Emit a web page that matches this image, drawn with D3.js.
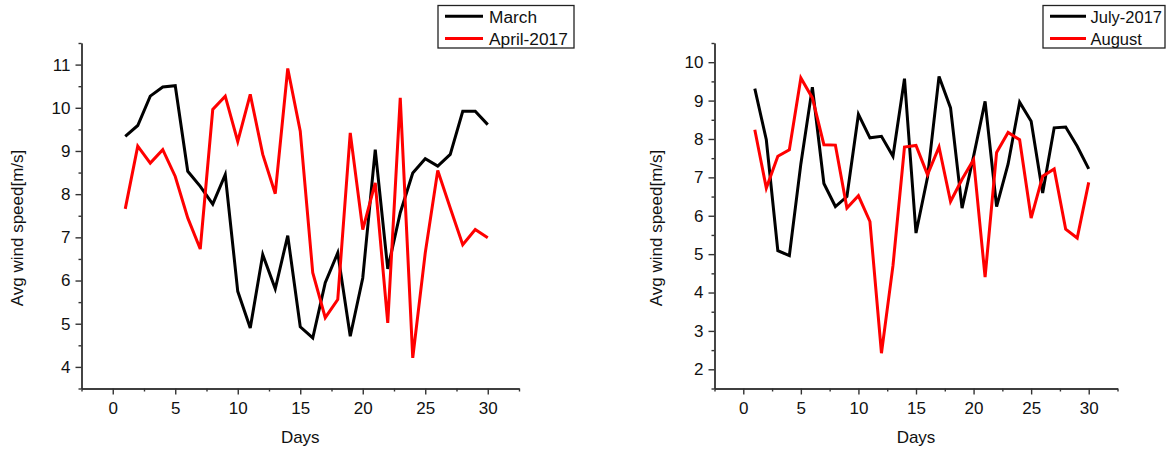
<!DOCTYPE html>
<meta charset="utf-8">
<script src="https://d3js.org/d3.v7.min.js"></script>
<style>
  body { margin: 0; background: #fff; }
  text { font-family: "Liberation Sans", Arial, sans-serif; fill: #111; }
</style>
<div id="chart"></div>
<script>

  // days of the month (x values)
  const days = [1,2,3,4,5,6,7,8,9,10,11,12,13,14,15,16,17,18,19,20,21,22,23,24,25,26,27,28,29,30];

  // average wind speed, m/s
  const marchSpeed  = [9.34, 9.59, 10.27, 10.48, 10.51, 8.53, 8.18, 7.77, 8.45, 5.75, 4.90, 6.60, 5.81, 7.04, 4.93, 4.67, 5.95, 6.64, 4.71, 6.06, 9.03, 6.27, 7.57, 8.49, 8.82, 8.65, 8.92, 9.92, 9.92, 9.61];
  const aprilSpeed  = [7.66, 9.11, 8.72, 9.03, 8.41, 7.45, 6.73, 9.96, 10.27, 9.22, 10.31, 8.92, 8.01, 10.91, 9.46, 6.18, 5.14, 5.56, 9.42, 7.18, 8.26, 5.02, 10.23, 4.21, 6.64, 8.55, 7.68, 6.83, 7.18, 6.99];
  const julySpeed   = [9.31, 7.98, 5.09, 4.96, 7.35, 9.35, 6.84, 6.24, 6.50, 8.64, 8.03, 8.07, 7.55, 9.57, 5.55, 7.00, 9.63, 8.81, 6.20, 7.55, 8.98, 6.24, 7.35, 8.96, 8.46, 6.59, 8.29, 8.31, 7.81, 7.22];
  const augustSpeed = [8.24, 6.72, 7.55, 7.72, 9.59, 9.07, 7.85, 7.84, 6.20, 6.52, 5.85, 2.42, 4.70, 7.79, 7.83, 7.07, 7.79, 6.37, 6.95, 7.46, 4.40, 7.65, 8.17, 7.98, 5.94, 7.03, 7.22, 5.65, 5.42, 6.87];

  // tick labels
  const xTicks = [0, 5, 10, 15, 20, 25, 30];
  const xMinorTicks = [-2.5, 2.5, 7.5, 12.5, 17.5, 22.5, 27.5, 32.5];
  const yTicksLeft = [4, 5, 6, 7, 8, 9, 10, 11];
  const yMinorLeft = [3.5, 4.5, 5.5, 6.5, 7.5, 8.5, 9.5, 10.5, 11.5];
  const yTicksRight = [2, 3, 4, 5, 6, 7, 8, 9, 10];
  const yMinorRight = [1.5, 2.5, 3.5, 4.5, 5.5, 6.5, 7.5, 8.5, 9.5, 10.5];

  const svg = d3.select("#chart")
    .append("svg")
      .attr("width", 1167)
      .attr("height", 451);

  function drawPanel(p) {
    const x = d3.scaleLinear().domain([-2.5, 32.5]).range([p.left, p.right]);
    const y = d3.scaleLinear().domain(p.yDomain).range([388.5, 43]);

    const g = svg.append("g");

    // x axis: minor ticks then major ticks with labels
    g.append("g")
      .attr("transform", "translate(0,388.5)")
      .call(d3.axisBottom(x).tickValues(xMinorTicks).tickSize(3).tickSizeOuter(0).tickFormat(""));
    g.append("g")
      .attr("transform", "translate(0,388.5)")
      .call(d3.axisBottom(x).tickValues(xTicks).tickSize(6).tickSizeOuter(0).tickPadding(7))
      .call(a => a.selectAll("text").attr("font-size", 17).attr("fill", "#111"));

    // y axis
    g.append("g")
      .attr("transform", `translate(${p.left},0)`)
      .call(d3.axisLeft(y).tickValues(p.yMinor).tickSize(3).tickSizeOuter(0).tickFormat(""));
    g.append("g")
      .attr("transform", `translate(${p.left},0)`)
      .call(d3.axisLeft(y).tickValues(p.yTicks).tickSize(6).tickSizeOuter(0).tickPadding(5))
      .call(a => a.selectAll("text").attr("font-size", 17).attr("fill", "#111"));

    g.selectAll(".domain, .tick line").attr("stroke", "#333").attr("stroke-width", 1.4);

    // axis titles
    g.append("text")
      .attr("x", (p.left + p.right) / 2)
      .attr("y", 443)
      .attr("text-anchor", "middle")
      .attr("font-size", 17)
      .text("Days");
    g.append("text")
      .attr("transform", `translate(${p.yLabelX},228) rotate(-90)`)
      .attr("text-anchor", "middle")
      .attr("font-size", 17)
      .text("Avg wind speed[m/s]");

    // lines
    const line = d3.line()
      .x((d, i) => x(days[i]))
      .y(d => y(d));

    p.series.forEach(s => {
      g.append("path")
        .datum(s.values)
        .attr("fill", "none")
        .attr("stroke", s.color)
        .attr("stroke-width", 3)
        .attr("d", line);
    });

    // legend
    const L = p.legend;
    const lg = g.append("g");
    lg.append("rect")
      .attr("x", L.x)
      .attr("y", 5.5)
      .attr("width", L.w)
      .attr("height", 42.5)
      .attr("fill", "#fff")
      .attr("stroke", "#222")
      .attr("stroke-width", 1.3);
    p.series.forEach((s, i) => {
      const ly = 16.2 + i * 22.4;
      lg.append("line")
        .attr("x1", L.x + 7)
        .attr("x2", L.x + L.lineEnd)
        .attr("y1", ly)
        .attr("y2", ly)
        .attr("stroke", s.color)
        .attr("stroke-width", 3);
      lg.append("text")
        .attr("x", L.x + L.textAt)
        .attr("y", ly + 6.5)
        .attr("font-size", L.fontSize)
        .text(s.name);
    });
  }

  drawPanel({
    left: 81.5, right: 519,
    yDomain: [3.5, 11.5], yTicks: yTicksLeft, yMinor: yMinorLeft,
    yLabelX: 23,
    legend: {x: 438, w: 136, lineEnd: 45, textAt: 51, fontSize: 17.3},
    series: [
      {name: "March", color: "#000", values: marchSpeed},
      {name: "April-2017", color: "#ff0000", values: aprilSpeed}
    ]
  });

  drawPanel({
    left: 714.5, right: 1117.5,
    yDomain: [1.5, 10.5], yTicks: yTicksRight, yMinor: yMinorRight,
    yLabelX: 662,
    legend: {x: 1043, w: 122, lineEnd: 43, textAt: 47.5, fontSize: 16.5},
    series: [
      {name: "July-2017", color: "#000", values: julySpeed},
      {name: "August", color: "#ff0000", values: augustSpeed}
    ]
  });

</script>
